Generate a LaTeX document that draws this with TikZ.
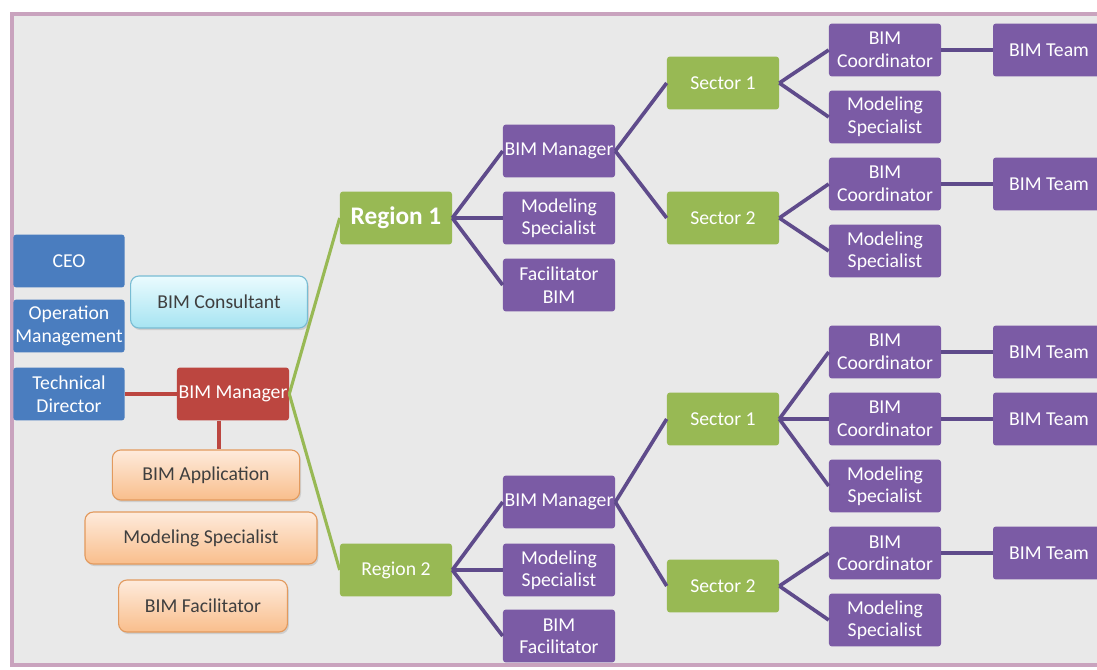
\documentclass[tikz,border=0pt]{standalone}
\usepackage{fontspec}
\setmainfont{Carlito}
\usetikzlibrary{shadows}
\definecolor{bggray}{HTML}{E9E9E9}
\definecolor{framepink}{HTML}{C9A3BE}
\definecolor{ceoblue}{HTML}{4A7DBF}
\definecolor{mgrred}{HTML}{BC4640}
\definecolor{leafgreen}{HTML}{98B954}
\definecolor{rolepurple}{HTML}{7B5BA5}
\definecolor{linkpurple}{HTML}{5F4B8B}
\definecolor{cyantop}{HTML}{EAFBFE}
\definecolor{cyanbot}{HTML}{A6E4F2}
\definecolor{cyanedge}{HTML}{78BCD3}
\definecolor{orgtop}{HTML}{FEEBDC}
\definecolor{orgbot}{HTML}{F9BE8C}
\definecolor{orgedge}{HTML}{E29A5E}
\definecolor{darktext}{HTML}{3F3F3F}

\begin{document}
\begin{tikzpicture}[x=0.025cm,y=-0.025cm,
  box/.style={minimum width=2.8cm,minimum height=1.32cm,inner sep=1pt,rounded corners=2pt,
    align=center,text=white,font=\fontsize{14}{16}\selectfont},
  bluebox/.style={box,fill=ceoblue},
  redbox/.style={box,fill=mgrred},
  greenbox/.style={box,fill=leafgreen},
  purplebox/.style={box,fill=rolepurple},
  softbox/.style={box,rounded corners=6pt,text=darktext,line width=0.8pt,
    drop shadow={opacity=0.25,shadow xshift=1pt,shadow yshift=-1.5pt}},
  cyanbox/.style={softbox,draw=cyanedge,top color=cyantop,bottom color=cyanbot},
  orangebox/.style={softbox,draw=orgedge,top color=orgtop,bottom color=orgbot},
  greenlink/.style={leafgreen,line width=2.2pt},
  redlink/.style={mgrred,line width=3pt},
  purplelink/.style={linkpurple,line width=2.6pt}]
\useasboundingbox (0,0) rectangle (1097,670);
\clip (0,0) rectangle (1097,670);
\fill[white] (0,0) rectangle (1097,670);
\filldraw[fill=bggray,draw=framepink,line width=2.5pt] (12,14) rectangle (1130,665);

% left column
\node[bluebox,minimum width=2.78cm] (ceo) at (69,261) {CEO};
\node[bluebox,minimum width=2.78cm] (opmgmt) at (69,326) {Operation\\Management};
\node[bluebox,minimum width=2.78cm] (techdir) at (69,394) {Technical\\Director};
\node[cyanbox,minimum width=4.42cm,minimum height=1.3cm] (consult) at (219,302) {BIM Consultant};
\node[redbox] (mainmgr) at (233,394) {BIM Manager};
\node[orangebox,minimum width=4.68cm,minimum height=1.25cm] (bimapp) at (206,475) {BIM Application};
\node[orangebox,minimum width=5.8cm,minimum height=1.3cm] (mainmod) at (201,538) {Modeling Specialist};
\node[orangebox,minimum width=4.22cm,minimum height=1.3cm] (mainfac) at (203,606) {BIM Facilitator};

% regions
\node[greenbox,font=\fontsize{18}{18}\selectfont\bfseries] (reg1) at (396,218) {Region 1};
\node[greenbox] (reg2) at (396,570) {Region 2};

% region level roles
\foreach \n/\y/\t in {mgrA/151/BIM Manager,modA/218/Modeling\\Specialist,facA/285/Facilitator\\BIM,
  mgrB/502/BIM Manager,modB/570/Modeling\\Specialist,facB/636/BIM\\Facilitator}
  \node[purplebox] (\n) at (559,\y) {\t};

% sectors
\foreach \n/\y/\t in {secAa/83/Sector 1,secAb/218/Sector 2,secBa/419/Sector 1,secBb/586/Sector 2}
  \node[greenbox] (\n) at (723,\y) {\t};

% sector level roles
\foreach \n/\y/\t in {crdAa/50/BIM\\Coordinator,spcAa/117/Modeling\\Specialist,
  crdAb/184/BIM\\Coordinator,spcAb/251/Modeling\\Specialist,
  crdBa/352/BIM\\Coordinator,crdBb/419/BIM\\Coordinator,spcBa/486/Modeling\\Specialist,
  crdBc/553/BIM\\Coordinator,spcBc/620/Modeling\\Specialist}
  \node[purplebox] (\n) at (885,\y) {\t};

% teams
\foreach \n/\y in {teamAa/50,teamAb/184,teamBa/352,teamBb/419,teamBc/553}
  \node[purplebox] (\n) at (1049,\y) {BIM Team};

% connectors
\draw[redlink] (techdir.east) -- (mainmgr.west);
\draw[redlink] ([xshift=-0.35cm]mainmgr.south) -- ([xshift=-0.35cm]mainmgr.south |- bimapp.north);
\draw[greenlink] (mainmgr.east) -- (reg1.west);
\draw[greenlink] (mainmgr.east) -- (reg2.west);
\foreach \a/\b in {reg1/mgrA,reg1/modA,reg1/facA,reg2/mgrB,reg2/modB,reg2/facB,
  mgrA/secAa,mgrA/secAb,mgrB/secBa,mgrB/secBb,
  secAa/crdAa,secAa/spcAa,secAb/crdAb,secAb/spcAb,
  secBa/crdBa,secBa/crdBb,secBa/spcBa,secBb/crdBc,secBb/spcBc,
  crdAa/teamAa,crdAb/teamAb,crdBa/teamBa,crdBb/teamBb,crdBc/teamBc}
  \draw[purplelink] (\a.east) -- (\b.west);
\end{tikzpicture}
\end{document}
